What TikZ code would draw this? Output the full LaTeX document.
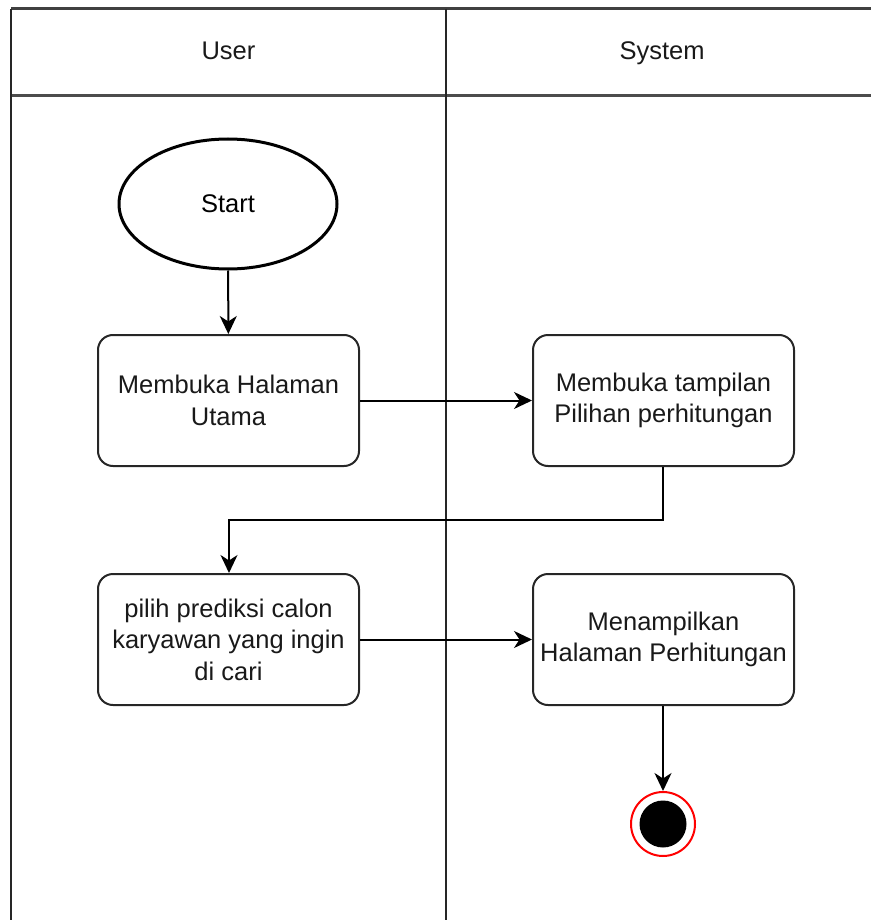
\documentclass[tikz,border=0pt]{standalone}
\usepackage{fontspec}
\setmainfont{Liberation Sans}
\usetikzlibrary{arrows.meta,shapes.geometric}
\begin{document}
\begin{tikzpicture}[x=1pt,y=-1pt,
  lane/.style={line width=2pt,draw=black!85},
  activity/.style={draw=black!85,line width=2pt,rounded corners=15pt,
    minimum width=261pt,minimum height=131pt,align=center,
    font=\fontsize{25.5}{31.5}\selectfont,text=black!90},
  flow/.style={line width=2pt,-{Stealth[length=18pt,width=17pt,inset=5.5pt]}},
  lbl/.style={font=\fontsize{25.5}{30}\selectfont,text=black!90,anchor=base}]
\useasboundingbox (0,0) rectangle (871,920);
% swimlane frame
\draw[lane,draw=black!75,line width=3pt] (11,9) -- (871,9);
\draw[lane,draw=black!70,line width=3pt] (11,96) -- (871,96);
\draw[lane] (11,9) -- (11,920);
\draw[lane] (446,9) -- (446,920);
\node[lbl] (user) at (228.5,60) {User};
\node[lbl] (system) at (662,60) {System};
% start
\node[ellipse,draw=black,line width=3pt,minimum width=218pt,minimum height=130pt,
  font=\fontsize{25.5}{30}\selectfont] (start) at (228,204) {Start};
% activities
\node[activity] (a1) at (228.5,400.5) {Membuka Halaman\\Utama};
\node[activity] (a2) at (663.5,400.5) {Membuka tampilan\\Pilihan perhitungan};
\node[activity] (a3) at (228.5,639.5) {pilih prediksi calon\\karyawan yang ingin\\di cari};
\node[activity] (a4) at (663.5,639.5) {Menampilkan\\Halaman Perhitungan};
% end
\node[circle,draw=red,line width=2pt,fill=white,minimum size=64pt,inner sep=0pt] (end) at (663,824) {};
\node[circle,fill=black,minimum size=47pt,inner sep=0pt] (endcore) at (end.center) {};
% connectors
\draw[flow] (start) -- (a1);
\draw[flow] (a1) -- (a2);
\coordinate (bend1) at (663,520);
\coordinate (bend2) at (229,520);
\draw[flow] (a2.south -| bend1) -- (bend1) -- (bend2) -- (bend2 |- a3.north);
\draw[flow] (a3) -- (a4);
\draw[flow] (a4.south -| end) -- (end.north);
\end{tikzpicture}
\end{document}
